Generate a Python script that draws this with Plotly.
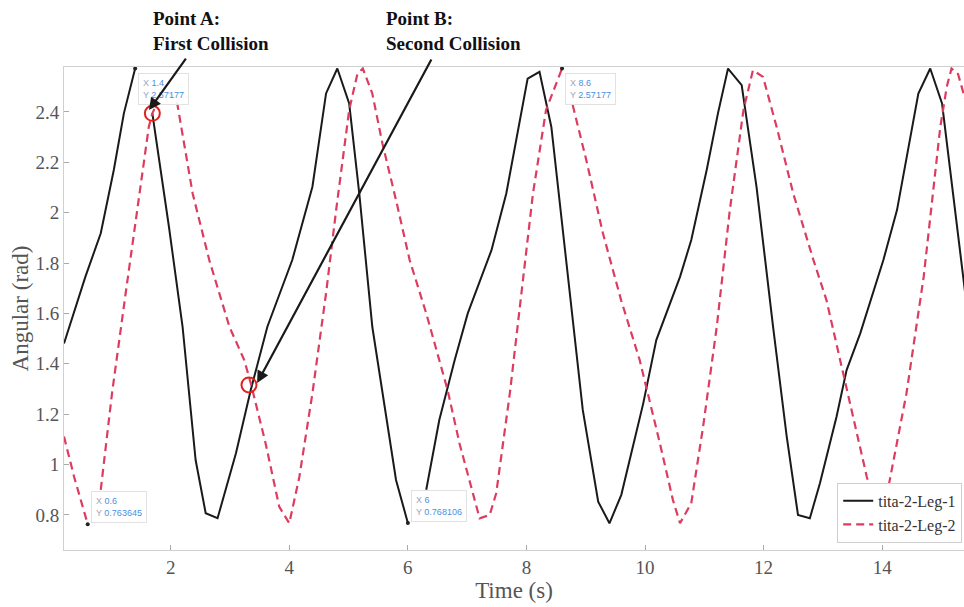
import plotly.graph_objects as go

# ---- data ----
leg1_time = [0.2, 0.56, 0.82, 1.04, 1.21, 1.4, None,
             1.69, 1.97, 2.2, 2.42, 2.59, 2.79, 3.1, 3.35, 3.63, 4.05, 4.39, 4.62, 4.81, 5.01, 5.18, 5.4, 5.8, 6.0, None,
             6.31, 6.53, 6.79, 7.01, 7.41, 7.66, 8.02, 8.22, 8.42, 8.67, 8.95, 9.21, 9.4, 9.6, 9.97, 10.19, 10.59,
             10.78, 11.04, 11.23, 11.4, 11.63, 11.88, 12.16, 12.39, 12.58, 12.78, 12.95, 13.23, 13.4, 13.63, 14.02,
             14.25, 14.61, 14.81, 15.01, 15.2, 15.4]
leg1_angle = [1.481, 1.745, 1.918, 2.169, 2.394, 2.57177, None,
              2.394, 1.944, 1.547, 1.018, 0.807, 0.787, 1.045, 1.296, 1.547, 1.812, 2.103, 2.473, 2.572, 2.433, 2.076, 1.547, 0.939, 0.768106, None,
              0.9, 1.177, 1.415, 1.6, 1.851, 2.076, 2.532, 2.559, 2.34, 1.812, 1.217, 0.853, 0.767, 0.88, 1.243, 1.494, 1.745,
              1.891, 2.169, 2.394, 2.572, 2.506, 2.103, 1.547, 1.111, 0.8, 0.787, 0.926, 1.19, 1.375, 1.521, 1.812,
              2.01, 2.473, 2.572, 2.433, 2.076, 1.68]

leg2_time = [0.2, 0.37, 0.6, None,
             0.82, 1.01, 1.24, 1.47, 1.63, 1.69, 1.9, 2.11, 2.37, 2.65, 2.99, 3.24, 3.35, 3.6, 3.83, 4.0, 4.17, 4.39,
             4.62, 4.79, 5.01, 5.15, 5.24, 5.4, 5.57, 5.8, 6.03, 6.31, 6.53, 6.67, 6.87, 7.1, 7.21, 7.38, 7.49, 7.72,
             7.91, 8.11, 8.33, 8.6, None,
             8.78, 9.01, 9.29, 9.6, 9.91, 10.02, 10.25, 10.47, 10.59, 10.78, 10.98, 11.21, 11.43, 11.66, 11.82, 11.99,
             12.22, 12.5, 12.84, 13.06, 13.29, 13.51, 13.74, 13.85, 13.97, 14.08, 14.41, 14.7, 14.98, 15.09, 15.17,
             15.28, 15.4]
leg2_angle = [1.111, 0.952, 0.763645, None,
              0.9, 1.283, 1.68, 2.076, 2.34, 2.394, 2.5, 2.433, 2.076, 1.812, 1.547, 1.415, 1.323, 1.085, 0.833, 0.767, 0.952, 1.283,
              1.68, 2.01, 2.407, 2.552, 2.572, 2.473, 2.275, 2.05, 1.812, 1.6, 1.415, 1.296, 1.085, 0.886, 0.787, 0.8, 0.886, 1.283,
              1.68, 2.076, 2.407, 2.57177, None,
              2.427, 2.208, 1.918, 1.65, 1.415, 1.309, 1.085, 0.86, 0.767, 0.847, 1.151, 1.547, 2.01, 2.407, 2.565, 2.539,
              2.34, 2.076, 1.812, 1.653, 1.415, 1.177, 0.952, 0.86, 0.77, 0.88, 1.283, 1.745, 2.34, 2.5, 2.572,
              2.55, 2.45]

collision_time = [1.69, 3.32]
collision_angle = [2.394, 1.316]
collision_labels = ["Point A:<br>First Collision", "Point B:<br>Second Collision"]

tip_time = [1.4, 0.6, 6.0, 8.6]
tip_angle = [2.57177, 0.763645, 0.768106, 2.57177]

x_ticks = [2, 4, 6, 8, 10, 12, 14]
y_ticks = [0.8, 1.0, 1.2, 1.4, 1.6, 1.8, 2.0, 2.2, 2.4]
y_tick_text = ["0.8", "1", "1.2", "1.4", "1.6", "1.8", "2", "2.2", "2.4"]

SERIF = "Liberation Serif, Times New Roman, serif"
RED = "#DC3C5E"

fig = go.Figure()
fig.add_trace(go.Scatter(x=leg1_time, y=leg1_angle, mode="lines", name="tita-2-Leg-1",
                         line=dict(color="#1a1a1a", width=2), connectgaps=False))
fig.add_trace(go.Scatter(x=leg2_time, y=leg2_angle, mode="lines", name="tita-2-Leg-2",
                         line=dict(color=RED, width=2.2, dash="8px,5px"), connectgaps=False))
fig.add_trace(go.Scatter(x=tip_time, y=tip_angle, mode="markers", showlegend=False,
                         marker=dict(color="#222", size=4)))
fig.add_trace(go.Scatter(x=collision_time, y=collision_angle, mode="markers", showlegend=False,
                         marker=dict(symbol="circle-open", size=15, color="#E0201E", line=dict(width=2))))

annotations = []
# data tips
tip_specs = [("left", "top", 3, -4), ("left", "bottom", 3, 1), ("left", "bottom", 3, 1), ("left", "top", 3, -4)]
for tx, ty, (xa, ya, xs, ys) in zip(tip_time, tip_angle, tip_specs):
    txt = (f"<span style='color:#9aa6b8'>X</span> <span style='color:#4a90e2'>{tx:g}</span><br>"
           f"<span style='color:#9aa6b8'>Y</span> <span style='color:#4a90e2'>{ty:g}</span>")
    annotations.append(dict(x=tx, y=ty, xref="x", yref="y", text=txt, showarrow=False,
                            xanchor=xa, yanchor=ya, xshift=xs, yshift=ys, align="left",
                            font=dict(family="Liberation Sans, Arial", size=9),
                            bgcolor="rgba(255,255,255,0.9)", bordercolor="#e2e2e2", borderwidth=1, borderpad=4))
# arrows
arrow_offsets = [(38, -53), (175, -325)]
arrow_heads = [(1.633, 2.407), (3.458, 1.324)]
for (hx, hy), (ax, ay) in zip(arrow_heads, arrow_offsets):
    annotations.append(dict(x=hx, y=hy, xref="x", yref="y", ax=ax, ay=ay, axref="pixel", ayref="pixel",
                            text="", showarrow=True, arrowhead=2, arrowsize=1.1, arrowwidth=2.2,
                            arrowcolor="#1a1a1a"))
# labels
label_pos = [0.097, 0.356]
for lx, lt in zip(label_pos, collision_labels):
    annotations.append(dict(x=lx, y=1.127, xref="paper", yref="paper", text=f"<b>{lt}</b>",
                            showarrow=False, xanchor="left", yanchor="top", align="left",
                            font=dict(family=SERIF, size=19, color="#111")))

fig.update_layout(
    width=964, height=607,
    margin=dict(l=64, r=0, t=67, b=57, autoexpand=False),
    paper_bgcolor="white", plot_bgcolor="white",
    font=dict(family=SERIF, size=17, color="#555"),
    showlegend=True,
    legend=dict(x=0.998, y=0.015, xanchor="right", yanchor="bottom",
                bgcolor="white", bordercolor="#cfcfcf", borderwidth=1,
                font=dict(family=SERIF, size=16, color="#333"),
                tracegroupgap=0, itemwidth=30),
    annotations=annotations,
)
fig.update_xaxes(range=[0.2, 15.38], tickvals=x_ticks, ticks="inside", ticklen=5, tickcolor="#aaa",
                 showgrid=False, zeroline=False, showline=True, mirror=True, linecolor="#d0d0d0",
                 title=dict(text="Time (s)", font=dict(family=SERIF, size=23, color="#555"), standoff=4),
                 tickfont=dict(family=SERIF, size=19, color="#555"))
fig.update_yaxes(range=[0.661, 2.578], tickvals=y_ticks, ticktext=y_tick_text, ticks="inside", ticklen=5,
                 tickcolor="#aaa", showgrid=False, zeroline=False, showline=True, mirror=True, linecolor="#d0d0d0",
                 title=dict(text="Angular (rad)", font=dict(family=SERIF, size=23, color="#555"), standoff=0),
                 tickfont=dict(family=SERIF, size=19, color="#555"))

fig.write_html("out.html", config={"displayModeBar": False},
               post_script="document.body.style.margin='0px';")
